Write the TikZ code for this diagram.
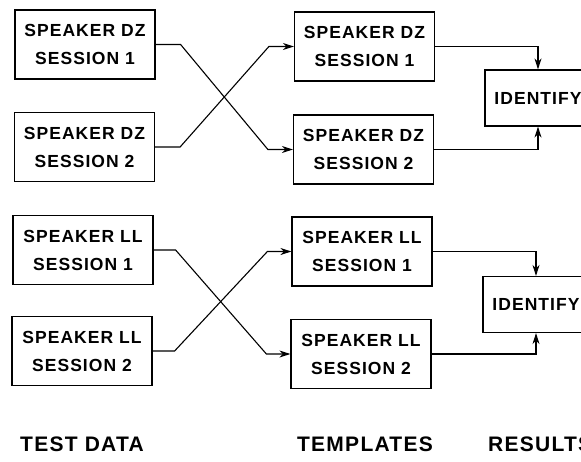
\documentclass[tikz,border=0pt]{standalone}
\usepackage{fontspec}
\setmainfont{Liberation Sans}[LetterSpace=6]
\usetikzlibrary{arrows.meta}
\tikzset{
  lbl/.style={font=\bfseries\fontsize{17.5}{28}\selectfont, align=center, inner sep=0pt},
  colcaption/.style={font=\bfseries\fontsize{21}{24}\selectfont, inner sep=0pt},
  box/.style={lbl, draw, line width=1.2pt, minimum width=140pt, minimum height=69pt},
  idbox/.style={lbl, draw, line width=1.2pt, minimum width=106pt, minimum height=56pt},
  conn/.style={line width=1.1pt, -{Stealth[length=11pt,width=7pt]}},
}
\begin{document}
\begin{tikzpicture}[x=1pt,y=-1pt]
\useasboundingbox (0,0) rectangle (581,461);
\clip (0,0) rectangle (581,461);
\fill[white] (0,0) rectangle (581,461);

% test data
\node[box] (tdz1) at (85,44.5) {SPEAKER DZ\\SESSION 1};
\node[box] (tdz2) at (84.5,147) {SPEAKER DZ\\SESSION 2};
\node[box] (tll1) at (83,250) {SPEAKER LL\\SESSION 1};
\node[box] (tll2) at (82,351) {SPEAKER LL\\SESSION 2};

% templates
\node[box] (mdz1) at (364.5,46.5) {SPEAKER DZ\\SESSION 1};
\node[box] (mdz2) at (363.5,149.5) {SPEAKER DZ\\SESSION 2};
\node[box] (mll1) at (362,251.5) {SPEAKER LL\\SESSION 1};
\node[box] (mll2) at (361,354) {SPEAKER LL\\SESSION 2};

% identification
\node[idbox] (iddz) at (538,98) {IDENTIFY};
\node[idbox] (idll) at (536,304.5) {IDENTIFY};

% crossed connections, test data to templates
\draw[conn] (tdz1.east) -- ++(25,0) -- ([xshift=-25pt]mdz2.west) -- (mdz2.west);
\draw[conn] (tdz2.east) -- ++(25,0) -- ([xshift=-25pt]mdz1.west) -- (mdz1.west);
\draw[conn] (tll1.east) -- ++(22,0) -- ([xshift=-24pt]mll2.west) -- (mll2.west);
\draw[conn] (tll2.east) -- ++(22,0) -- ([xshift=-24pt]mll1.west) -- (mll1.west);

% templates to identify
\draw[conn] (mdz1.east) -| (iddz.north);
\draw[conn] (mdz2.east) -| (iddz.south);
\draw[conn] (mll1.east) -| (idll.north);
\draw[conn] (mll2.east) -| (idll.south);

% column captions
\node[colcaption] (captest) at (82,444) {TEST DATA};
\node[colcaption] (captmp) at (365,444) {TEMPLATES};
\node[colcaption, anchor=west] (capres) at (488,444) {RESULTS};
\end{tikzpicture}
\end{document}
